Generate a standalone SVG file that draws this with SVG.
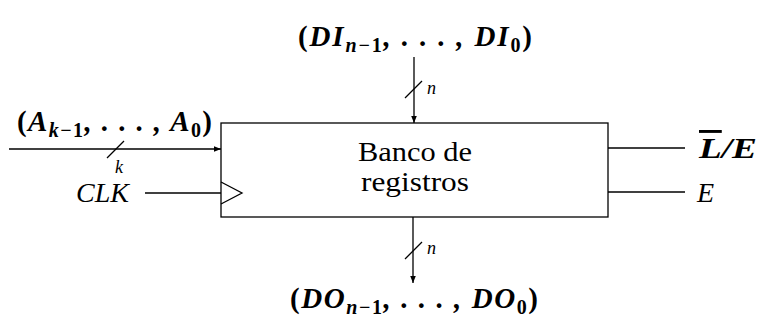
<svg xmlns="http://www.w3.org/2000/svg" width="765" height="320" viewBox="0 0 765 320">
<style>
.ln{stroke:#000;stroke-width:1.3;fill:none}
.m{font-family:"Liberation Serif","DejaVu Serif",serif;font-style:italic;font-weight:bold;font-size:29px}
.p{font-style:normal}
.s{font-size:20px}
.su{font-size:20px;font-style:normal}
.r{font-family:"Liberation Serif","DejaVu Serif",serif;font-size:27px}
.i{font-family:"Liberation Serif","DejaVu Serif",serif;font-style:italic;font-size:28px}
.n{font-family:"Liberation Serif","DejaVu Serif",serif;font-style:italic;font-size:18px}
</style>
<defs>
<marker id="ah" viewBox="0 0 10 10" refX="10" refY="5" markerWidth="7" markerHeight="7" markerUnits="userSpaceOnUse" orient="auto">
<path d="M0,1 L10,5 L0,9 Z" fill="#000"/>
</marker>
</defs>
<g id="registro">
<rect x="221" y="123" width="387" height="94" class="ln"/>
<polyline points="221,182 242,193 221,204" class="ln"/>
<text x="415" y="161" class="r" text-anchor="middle" textLength="114" lengthAdjust="spacingAndGlyphs">Banco de</text>
<text x="415" y="191" class="r" text-anchor="middle" textLength="108" lengthAdjust="spacingAndGlyphs">registros</text>
</g>
<g id="connectors">
<line x1="9" y1="149" x2="221" y2="149" class="ln" marker-end="url(#ah)"/>
<line x1="107" y1="158" x2="124" y2="141" class="ln"/>
<line x1="145" y1="193" x2="221" y2="193" class="ln"/>
<line x1="414" y1="57" x2="414" y2="123" class="ln" marker-end="url(#ah)"/>
<line x1="405" y1="98" x2="422" y2="81" class="ln"/>
<line x1="413" y1="217" x2="413" y2="283" class="ln" marker-end="url(#ah)"/>
<line x1="405" y1="259" x2="422" y2="242" class="ln"/>
<line x1="608" y1="148" x2="685" y2="148" class="ln"/>
<line x1="608" y1="192" x2="685" y2="192" class="ln"/>
</g>
<g id="labels">
<text x="17" y="131" class="m" textLength="195" lengthAdjust="spacing"><tspan class="p">(</tspan>A<tspan class="s" dy="6">k</tspan><tspan class="su">−1</tspan><tspan dy="-6">, . . . , A</tspan><tspan class="su" dy="6">0</tspan><tspan class="p" dy="-6">)</tspan></text>
<text x="115" y="173" class="n">k</text>
<text x="76" y="202" class="i">CLK</text>
<text x="415" y="46" class="m" text-anchor="middle" textLength="234" lengthAdjust="spacing"><tspan class="p">(</tspan>DI<tspan class="s" dy="6">n</tspan><tspan class="su">−1</tspan><tspan dy="-6">, . . . , DI</tspan><tspan class="su" dy="6">0</tspan><tspan class="p" dy="-6">)</tspan></text>
<text x="427" y="94" class="n">n</text>
<text x="427" y="254" class="n">n</text>
<text x="414" y="308" class="m" text-anchor="middle" textLength="248" lengthAdjust="spacing"><tspan class="p">(</tspan>DO<tspan class="s" dy="6">n</tspan><tspan class="su">−1</tspan><tspan dy="-6">, . . . , DO</tspan><tspan class="su" dy="6">0</tspan><tspan class="p" dy="-6">)</tspan></text>
<text x="699" y="158" class="m" textLength="58" lengthAdjust="spacingAndGlyphs"><tspan style="text-decoration:overline">L</tspan>/E</text>
<text x="697" y="202" class="i">E</text>
</g>
</svg>
